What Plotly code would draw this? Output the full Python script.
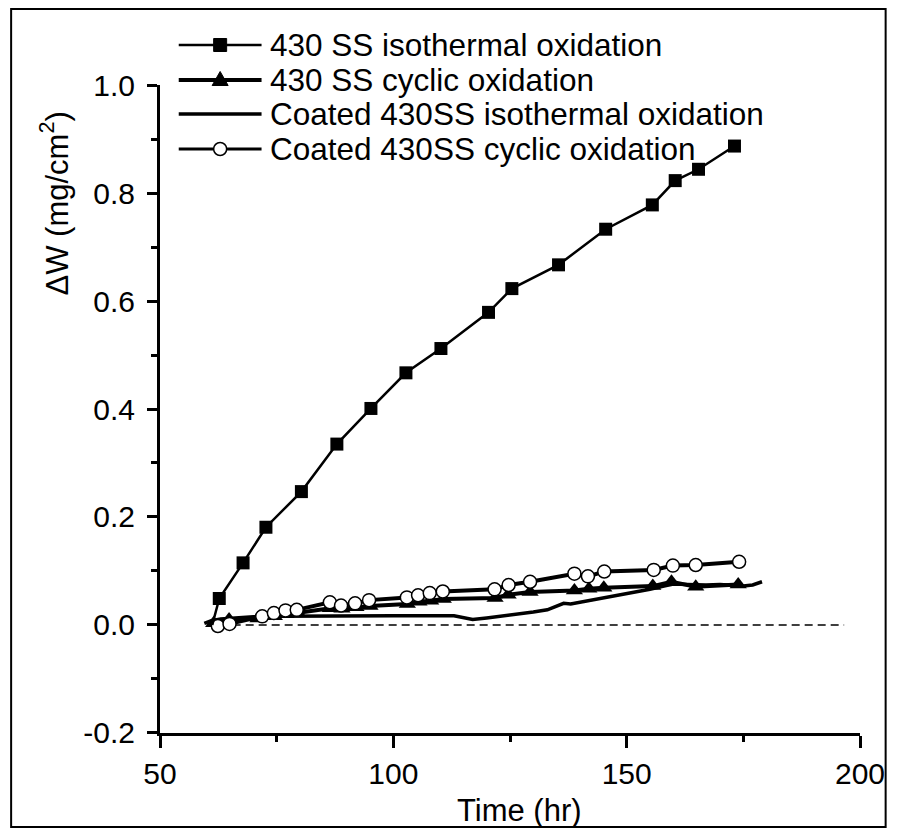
import plotly.graph_objects as go

# ---------------- data ----------------
# 430 SS isothermal oxidation (marker points + start of curve)
ss_iso_x = [62.7, 67.8, 72.7, 80.3, 87.9, 95.2, 102.7, 110.2, 120.4, 125.4, 135.4, 145.5, 155.5, 160.4, 165.4, 173.1]
ss_iso_y = [0.049, 0.115, 0.181, 0.247, 0.335, 0.401, 0.467, 0.512, 0.579, 0.623, 0.667, 0.733, 0.778, 0.823, 0.844, 0.887]
ss_iso_start_x = [61.2]
ss_iso_start_y = [0.0]

# 430 SS cyclic oxidation
ss_cyc_x = [61.5, 64.8, 71.0, 74.5, 77.0, 79.5, 86.5, 89.0, 92.0, 95.0, 103.0, 105.5, 108.0, 110.7,
            121.8, 124.6, 129.3, 138.8, 141.9, 145.1, 155.6, 159.6, 164.8, 173.9]
ss_cyc_y = [0.003, 0.010, 0.012, 0.016, 0.020, 0.022, 0.031, 0.030, 0.033, 0.035, 0.039, 0.043, 0.045, 0.048,
            0.050, 0.056, 0.061, 0.064, 0.067, 0.069, 0.072, 0.080, 0.071, 0.075]

# Coated 430SS isothermal oxidation (continuous curve)
c_iso_x = [59.5, 61, 63, 66, 70, 75, 85, 100, 113, 115, 117, 120, 125, 130, 133, 135, 136.5, 138, 140,
           145, 150, 155, 158, 160, 163, 167, 170, 173, 175, 177, 179]
c_iso_y = [0.003, 0.008, 0.011, 0.013, 0.015, 0.016, 0.017, 0.017, 0.017, 0.013, 0.010, 0.013, 0.018,
           0.024, 0.028, 0.035, 0.040, 0.039, 0.042, 0.050, 0.057, 0.066, 0.072, 0.076, 0.075, 0.074,
           0.075, 0.074, 0.072, 0.074, 0.080]

# Coated 430SS cyclic oxidation
c_cyc_x = [62.4, 64.9, 71.9, 74.4, 76.9, 79.3, 86.4, 88.8, 91.8, 94.8, 102.9, 105.3, 107.8, 110.6,
           121.7, 124.7, 129.3, 138.8, 141.7, 145.2, 155.8, 159.9, 164.8, 174.1]
c_cyc_y = [-0.002, 0.002, 0.016, 0.022, 0.027, 0.028, 0.042, 0.036, 0.040, 0.046, 0.051, 0.055, 0.059, 0.062,
           0.066, 0.074, 0.080, 0.095, 0.090, 0.099, 0.102, 0.110, 0.111, 0.117]

# zero reference line
zero_x = [60, 196.6]
zero_y = [0, 0]

series_names = ["430 SS isothermal oxidation", "430 SS cyclic oxidation",
                "Coated 430SS isothermal oxidation", "Coated 430SS cyclic oxidation"]

x_tickvals = [50, 100, 150, 200]
y_tickvals = [-0.2, 0.0, 0.2, 0.4, 0.6, 0.8, 1.0]
y_ticktext = ["-0.2", "0.0", "0.2", "0.4", "0.6", "0.8", "1.0"]

# ---------------- layout geometry ----------------
# page body has an 8px margin, so the figure starts at (8, 8) of the window
OFF = 8
W, H = 905 - 2 * OFF, 836 - 2 * OFF
ML, MT = 160 - OFF, 85 - OFF
MR = W - (870 - OFF)
MB = H - (733 - OFF)
PW, PH = W - ML - MR, H - MT - MB
FONT = "Liberation Sans, Arial, sans-serif"


def px(xr):
    """window x pixel -> paper x"""
    return (xr - OFF - ML) / PW


def py(yr):
    """window y pixel -> paper y"""
    return (H - MB - (yr - OFF)) / PH


fig = go.Figure()

fig.add_trace(go.Scatter(x=zero_x, y=zero_y, mode="lines",
                         line=dict(color="black", width=1.5, dash="8px,5px"),
                         showlegend=False, hoverinfo="skip"))

fig.add_trace(go.Scatter(x=c_iso_x, y=c_iso_y, mode="lines",
                         line=dict(color="black", width=3.5), name=series_names[2], showlegend=False))

fig.add_trace(go.Scatter(x=ss_cyc_x, y=ss_cyc_y, mode="lines+markers",
                         line=dict(color="black", width=4),
                         marker=dict(symbol="triangle-up", size=15, color="black"),
                         name=series_names[1], showlegend=False))

fig.add_trace(go.Scatter(x=c_cyc_x, y=c_cyc_y, mode="lines+markers",
                         line=dict(color="black", width=4),
                         marker=dict(symbol="circle", size=13, color="white",
                                     line=dict(color="black", width=1.5)),
                         name=series_names[3], showlegend=False))

fig.add_trace(go.Scatter(x=ss_iso_start_x + ss_iso_x, y=ss_iso_start_y + ss_iso_y, mode="lines",
                         line=dict(color="black", width=2.5), showlegend=False, hoverinfo="skip"))
fig.add_trace(go.Scatter(x=ss_iso_x, y=ss_iso_y, mode="markers",
                         marker=dict(symbol="square", size=13, color="black"),
                         name=series_names[0], showlegend=False))

# ---------------- manual legend ----------------
leg_rows = [45, 80, 114, 149]
leg_x0, leg_x1, leg_xm, leg_tx = 179, 263, 221, 270
leg_widths = [2.5, 4, 3.5, 3]

shapes = []
annotations = []
for i, (yr, name) in enumerate(zip(leg_rows, series_names)):
    shapes.append(dict(type="line", xref="paper", yref="paper",
                       x0=px(leg_x0), x1=px(leg_x1), y0=py(yr), y1=py(yr),
                       line=dict(color="black", width=leg_widths[i])))
    annotations.append(dict(xref="paper", yref="paper", x=px(leg_tx), y=py(yr),
                            xanchor="left", yanchor="middle", showarrow=False,
                            text=name, font=dict(family=FONT, size=31.5, color="black")))

# legend symbols (pixel-sized shapes anchored at the legend sample centre)
sq = 6.5
shapes.append(dict(type="rect", xref="paper", yref="paper", xsizemode="pixel", ysizemode="pixel",
                   xanchor=px(leg_xm), yanchor=py(leg_rows[0]), x0=-sq, x1=sq, y0=-sq, y1=sq,
                   fillcolor="black", line=dict(color="black", width=1)))
shapes.append(dict(type="path", xref="paper", yref="paper", xsizemode="pixel", ysizemode="pixel",
                   xanchor=px(leg_xm), yanchor=py(leg_rows[1]),
                   path="M-8,-5.5 L8,-5.5 L0,8.5 Z",
                   fillcolor="black", line=dict(color="black", width=1)))
shapes.append(dict(type="circle", xref="paper", yref="paper", xsizemode="pixel", ysizemode="pixel",
                   xanchor=px(leg_xm), yanchor=py(leg_rows[3]), x0=-6.5, x1=6.5, y0=-6.5, y1=6.5,
                   fillcolor="white", line=dict(color="black", width=1.5)))

# outer frame
shapes.append(dict(type="rect", xref="paper", yref="paper",
                   x0=px(OFF + 1), x1=px(OFF + W - 1), y0=py(OFF + H - 1), y1=py(OFF + 1),
                   line=dict(color="black", width=2), fillcolor="rgba(0,0,0,0)"))

# axis titles
annotations.append(dict(xref="paper", yref="paper", x=px(525), y=py(810), xanchor="center",
                        yanchor="middle", showarrow=False, text="Time (hr)",
                        font=dict(family=FONT, size=31, color="black")))
annotations.append(dict(xref="paper", yref="paper", x=px(53), y=py(204), xanchor="center",
                        yanchor="middle", showarrow=False, textangle=-90,
                        text="ΔW (mg/cm<sup>2</sup>)",
                        font=dict(family=FONT, size=31, color="black")))

fig.update_layout(
    width=W, height=H,
    margin=dict(l=ML, r=MR, t=MT, b=MB, pad=0),
    paper_bgcolor="white", plot_bgcolor="white",
    showlegend=False,
    font=dict(family=FONT, color="black"),
    shapes=shapes, annotations=annotations,
    xaxis=dict(range=[50, 200], tickvals=x_tickvals, ticks="outside", ticklen=12, tickwidth=3,
               tickcolor="black", showline=True, linewidth=3, linecolor="black",
               showgrid=False, zeroline=False, tickfont=dict(family=FONT, size=30, color="black"),
               minor=dict(dtick=25, tick0=50, ticks="outside", ticklen=6, tickwidth=3, tickcolor="black",
                          showgrid=False)),
    yaxis=dict(range=[-0.2001, 1.0001], tickvals=y_tickvals, ticktext=y_ticktext, ticks="outside",
               ticklen=10, tickwidth=3, tickcolor="black", showline=True, linewidth=3,
               linecolor="black", showgrid=False, zeroline=False, ticklabelstandoff=6,
               tickfont=dict(family=FONT, size=30, color="black"),
               minor=dict(dtick=0.1, tick0=0, ticks="outside", ticklen=6, tickwidth=3, tickcolor="black",
                          showgrid=False)),
)

fig.write_html("out.html")
